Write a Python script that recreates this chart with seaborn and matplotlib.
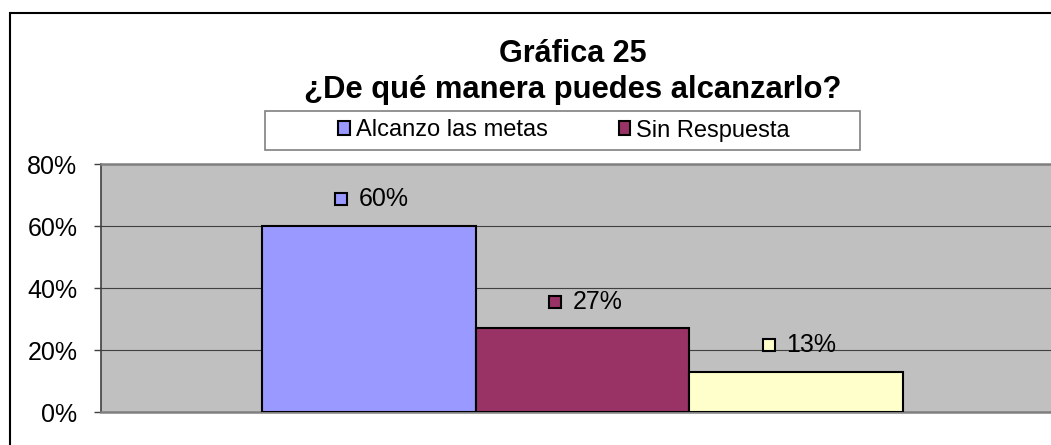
import matplotlib
matplotlib.use("Agg")
import matplotlib.pyplot as plt
from matplotlib.patches import Rectangle, Patch
from matplotlib.ticker import PercentFormatter
import seaborn as sns

# ---- data ----
categories = ["Alcanzo las metas", "Sin Respuesta", "Otra respuesta"]
values = [0.60, 0.27, 0.13]
legend_labels = ["Alcanzo las metas", "Sin Respuesta"]
colors = ["#9999FF", "#993366", "#FFFFCC"]
yticks = [0.0, 0.2, 0.4, 0.6, 0.8]
title_line1 = "Gráfica 25"
title_line2 = "¿De qué manera puedes alcanzarlo?"

sns.set_style("white")
plt.rcParams["font.family"] = ["Liberation Sans", "DejaVu Sans"]
plt.rcParams["text.color"] = "black"
plt.rcParams["axes.labelcolor"] = "black"
plt.rcParams["ytick.color"] = "black"

W, H = 1051, 445
fig = plt.figure(figsize=(W / 100, H / 100), dpi=100)

def px(x, y):
    return x / W, 1 - y / H

# outer chart frame
fig.patches.append(Rectangle((10 / W, -0.1), 1.2, 1 - 13 / H + 0.1,
                             transform=fig.transFigure, fill=False,
                             edgecolor="black", linewidth=1.5, zorder=0))

left, right, top, bottom = 101, 1064, 164, 412
ax = fig.add_axes([left / W, 1 - bottom / H, (right - left) / W, (bottom - top) / H])
ax.set_facecolor("#C0C0C0")

sns.barplot(x=categories, y=values, hue=categories, palette=colors, width=1.0,
            saturation=1, edgecolor="black", linewidth=1.5, ax=ax,
            legend=False, zorder=3)

ax.set_xlim(-1.253, 3.253)
ax.set_ylim(0, 0.8)
ax.set_yticks(yticks)
ax.yaxis.set_major_formatter(PercentFormatter(1.0, decimals=0))
ax.set_xticks([])
ax.set_xlabel("")
ax.set_ylabel("")
ax.grid(axis="y", color="#404040", linewidth=0.8, zorder=1)
ax.set_axisbelow(True)
ax.tick_params(axis="y", direction="out", length=5, width=1, color="#404040",
               labelsize=18, pad=12, left=True, labelcolor="black")

for s in ["top", "bottom"]:
    ax.spines[s].set_color("#808080")
    ax.spines[s].set_linewidth(1.8)
ax.spines["left"].set_color("#404040")
ax.spines["left"].set_linewidth(1.2)
ax.spines["right"].set_visible(False)

# data labels with color key squares
for i, (v, c) in enumerate(zip(values, colors)):
    ly = v + 0.086
    ax.plot(i - 0.128, ly, marker="s", markersize=8.2, markerfacecolor=c,
            markeredgecolor="black", markeredgewidth=1.5, zorder=5, clip_on=False)
    ax.text(i - 0.045, ly, f"{v*100:.0f}%", fontsize=18, ha="left", va="center",
            color="black", zorder=5)

# titles
fig.text(573 / W, 1 - 62 / H, title_line1, ha="center", va="baseline",
         fontsize=22, fontweight="bold", color="black")
fig.text(573 / W, 1 - 98 / H, title_line2, ha="center", va="baseline",
         fontsize=22.3, fontweight="bold", color="black")

# legend box
fig.patches.append(Rectangle(px(265, 150), (860 - 265) / W, (150 - 111) / H,
                             transform=fig.transFigure, facecolor="white",
                             edgecolor="#808080", linewidth=1.2, zorder=1))
handles = [Patch(facecolor=c, edgecolor="black", linewidth=1.5) for c in colors[:2]]
leg = fig.legend(handles, legend_labels, ncol=2, loc="center",
                 bbox_to_anchor=px(564, 130.5), frameon=False, fontsize=17,
                 handlelength=0.5, handleheight=0.5, handletextpad=0.25,
                 columnspacing=3.0, borderpad=0, labelcolor="black")
leg.set_zorder(2)

fig.savefig("out.png", dpi=100)
